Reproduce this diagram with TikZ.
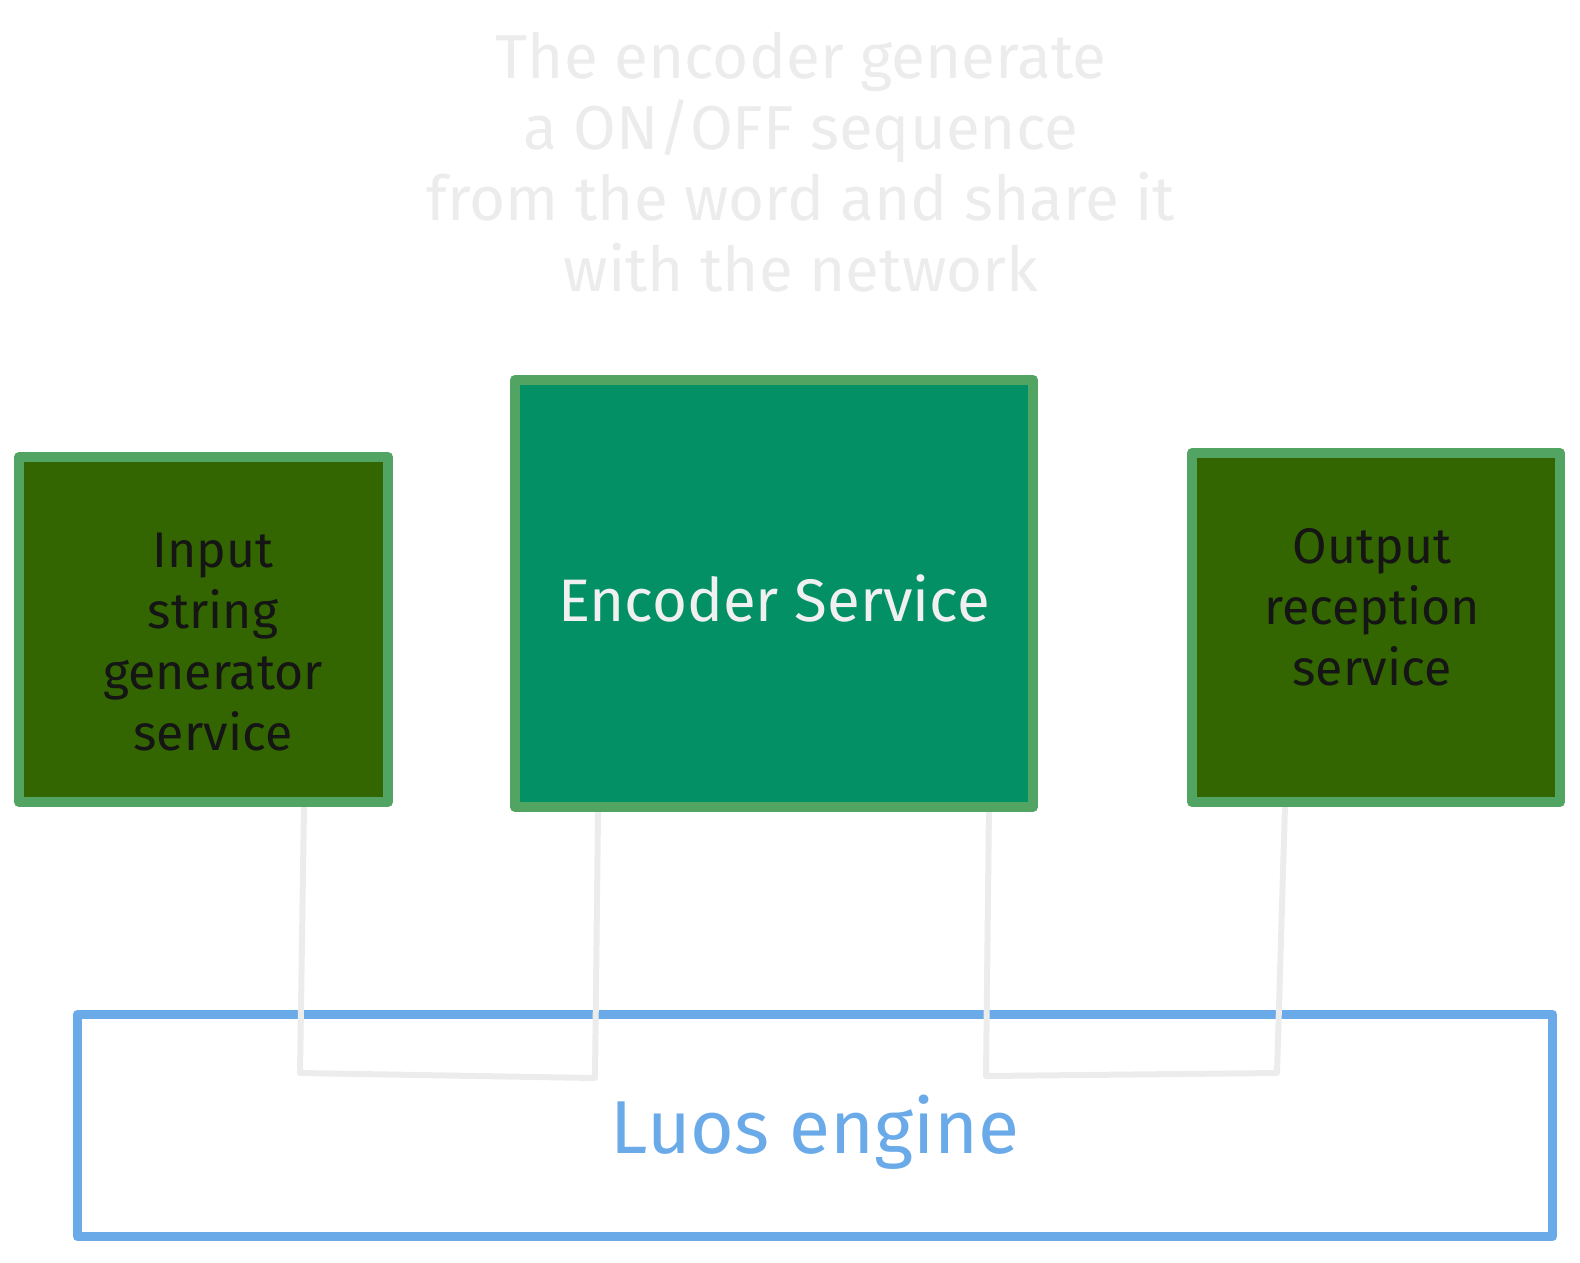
\documentclass[tikz,border=0pt]{standalone}
\usepackage{fontspec}
\setmainfont{Fira Sans}
\definecolor{boxborder}{HTML}{52A463}
\definecolor{darkfill}{HTML}{336600}
\definecolor{tealfill}{HTML}{039065}
\definecolor{luosblue}{HTML}{6AAAE8}
\definecolor{wiregray}{HTML}{ECECEC}
\definecolor{notegray}{HTML}{ECECEC}
\definecolor{whitetext}{HTML}{F0F0F0}
\definecolor{blacktext}{HTML}{151515}
\begin{document}
\begin{tikzpicture}[x=1pt,y=-1pt,
  svcbox/.style={draw=boxborder,line width=10pt,fill=darkfill,inner sep=0pt,line join=round},
  encbox/.style={svcbox,fill=tealfill},
  luosbox/.style={draw=luosblue,line width=9pt,inner sep=0pt,line join=round},
  svctext/.style={text=blacktext,align=center,font=\fontsize{50}{61}\selectfont},
  enctext/.style={text=whitetext,font=\fontsize{60}{70}\selectfont},
  luostext/.style={text=luosblue,font=\fontsize{75}{85}\selectfont},
  wire/.style={draw=wiregray,line width=6pt,line cap=round,line join=round},
  note/.style={text=notegray,align=center,font=\fontsize{62}{71}\selectfont}]
\useasboundingbox (0,0) rectangle (1580,1262);
% note
\node[note] (note) at (801,162) {The encoder generate\\a ON/OFF sequence\\from the word and share it\\with the network};
% Luos engine
\node[luosbox,minimum width=1475pt,minimum height=222pt] (luos) at (815,1125.5) {};
\node[luostext] (luostxt) at (815,1132) {Luos engine};
% connector coordinates
\coordinate (a1) at (304,806);
\coordinate (a2) at (300,1073);
\coordinate (a3) at (595,1078);
\coordinate (a4) at (598,812);
\coordinate (b1) at (989,806);
\coordinate (b2) at (986,1076);
\coordinate (b3) at (1277,1073);
\coordinate (b4) at (1285,806);
\draw[wire] (a1) -- (a2) -- (a3) -- (a4);
\draw[wire] (b1) -- (b2) -- (b3) -- (b4);
% service boxes
\node[svcbox,minimum width=369pt,minimum height=345pt] (inp) at (203.5,629.5) {};
\node[svctext] (inptxt) at (213,642) {Input\\string\\generator\\service};
\node[encbox,minimum width=518pt,minimum height=427pt] (enc) at (774,593.5) {};
\node[enctext] (enctxt) at (774,598) {Encoder Service};
\node[svcbox,minimum width=368pt,minimum height=349pt] (out) at (1376,627.5) {};
\node[svctext] (outtxt) at (1372,607) {Output\\reception\\service};
\end{tikzpicture}
\end{document}
